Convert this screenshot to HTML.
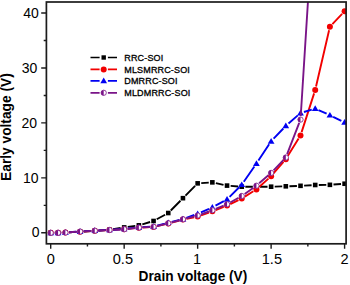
<!DOCTYPE html>
<html><head><meta charset="utf-8"><style>
html,body{margin:0;padding:0;background:#fff;width:350px;height:285px;overflow:hidden}
svg{display:block}
.t{font-family:"Liberation Sans",sans-serif;font-size:14px;fill:#000}
.b{font-family:"Liberation Sans",sans-serif;font-size:14px;font-weight:bold;fill:#000}
.l{font-family:"Liberation Sans",sans-serif;font-size:9px;letter-spacing:0.15px;stroke:#000;stroke-width:0.3px;fill:#000}
</style></head><body>
<svg width="350" height="285" viewBox="0 0 350 285">
<defs><clipPath id="pc"><rect x="46.4" y="2" width="299.7" height="241.8"/></clipPath></defs>
<g clip-path="url(#pc)"><path d="M54.30,232.80L54.45,232.80M61.64,232.67L61.80,232.66M68.99,232.32L76.50,231.90M83.68,231.50L91.19,231.08M98.37,230.61L105.89,230.05M113.03,229.21L120.62,227.99M127.74,226.91L135.31,225.83M142.32,224.31L150.11,222.01M156.73,219.27L165.10,214.73M170.79,210.46L180.42,200.74M185.49,195.62L195.12,185.90M201.24,183.10L208.75,182.60M215.86,183.13L223.52,184.82M230.63,185.87L238.15,186.43M245.34,186.70L252.83,186.70M260.03,186.70L267.52,186.70M274.72,186.60L282.22,186.41M289.42,186.19L296.92,185.94M304.11,185.62L311.62,185.20M318.81,184.95L326.31,184.87M333.49,184.56L341.01,184.00" fill="none" stroke="#000" stroke-width="1.9"/><rect x="48.40" y="230.50" width="4.6" height="4.6" fill="#000"/><rect x="55.75" y="230.50" width="4.6" height="4.6" fill="#000"/><rect x="63.10" y="230.23" width="4.6" height="4.6" fill="#000"/><rect x="77.79" y="229.40" width="4.6" height="4.6" fill="#000"/><rect x="92.48" y="228.58" width="4.6" height="4.6" fill="#000"/><rect x="107.18" y="227.48" width="4.6" height="4.6" fill="#000"/><rect x="121.88" y="225.11" width="4.6" height="4.6" fill="#000"/><rect x="136.57" y="223.03" width="4.6" height="4.6" fill="#000"/><rect x="151.26" y="218.69" width="4.6" height="4.6" fill="#000"/><rect x="165.96" y="210.72" width="4.6" height="4.6" fill="#000"/><rect x="180.65" y="195.88" width="4.6" height="4.6" fill="#000"/><rect x="195.35" y="181.05" width="4.6" height="4.6" fill="#000"/><rect x="210.05" y="180.06" width="4.6" height="4.6" fill="#000"/><rect x="224.74" y="183.30" width="4.6" height="4.6" fill="#000"/><rect x="239.44" y="184.40" width="4.6" height="4.6" fill="#000"/><rect x="254.13" y="184.40" width="4.6" height="4.6" fill="#000"/><rect x="268.82" y="184.40" width="4.6" height="4.6" fill="#000"/><rect x="283.52" y="184.01" width="4.6" height="4.6" fill="#000"/><rect x="298.21" y="183.52" width="4.6" height="4.6" fill="#000"/><rect x="312.91" y="182.69" width="4.6" height="4.6" fill="#000"/><rect x="327.60" y="182.53" width="4.6" height="4.6" fill="#000"/><rect x="342.30" y="181.43" width="4.6" height="4.6" fill="#000"/></g>
<g clip-path="url(#pc)"><path d="M54.30,232.80L54.45,232.80M61.64,232.67L61.80,232.66M68.99,232.32L76.50,231.90M83.68,231.49L91.19,231.04M98.38,230.63L105.88,230.24M113.08,229.86L120.58,229.47M127.75,228.90L135.29,228.08M142.47,227.50L149.97,227.11M157.07,226.09L164.76,224.28M171.74,222.55L179.47,220.52M186.48,218.89L194.12,217.31M201.04,215.38L208.95,212.57M215.70,210.05L223.69,206.92M230.28,204.04L238.49,200.08M244.79,196.61L253.37,191.29M259.11,186.99L268.45,178.61M273.48,173.48L283.47,161.89M287.72,156.11L298.61,138.60M301.62,132.11L314.11,93.36M316.03,86.42L329.09,30.24M332.39,24.13L342.11,13.95" fill="none" stroke="#f20000" stroke-width="1.9"/><circle cx="50.70" cy="232.80" r="3" fill="#f20000"/><circle cx="58.05" cy="232.80" r="3" fill="#f20000"/><circle cx="65.40" cy="232.53" r="3" fill="#f20000"/><circle cx="80.09" cy="231.70" r="3" fill="#f20000"/><circle cx="94.78" cy="230.82" r="3" fill="#f20000"/><circle cx="109.48" cy="230.05" r="3" fill="#f20000"/><circle cx="124.17" cy="229.28" r="3" fill="#f20000"/><circle cx="138.87" cy="227.69" r="3" fill="#f20000"/><circle cx="153.56" cy="226.92" r="3" fill="#f20000"/><circle cx="168.26" cy="223.46" r="3" fill="#f20000"/><circle cx="182.95" cy="219.61" r="3" fill="#f20000"/><circle cx="197.65" cy="216.59" r="3" fill="#f20000"/><circle cx="212.35" cy="211.37" r="3" fill="#f20000"/><circle cx="227.04" cy="205.60" r="3" fill="#f20000"/><circle cx="241.74" cy="198.51" r="3" fill="#f20000"/><circle cx="256.43" cy="189.39" r="3" fill="#f20000"/><circle cx="271.12" cy="176.20" r="3" fill="#f20000"/><circle cx="285.82" cy="159.17" r="3" fill="#f20000"/><circle cx="300.51" cy="135.54" r="3" fill="#f20000"/><circle cx="315.21" cy="89.93" r="3" fill="#f20000"/><circle cx="329.90" cy="26.74" r="3" fill="#f20000"/><circle cx="344.60" cy="11.35" r="3" fill="#f20000"/></g>
<g clip-path="url(#pc)"><path d="M54.30,232.80L54.45,232.80M61.64,232.67L61.80,232.66M68.99,232.30L76.50,231.82M83.68,231.35L91.19,230.84M98.38,230.44L105.88,230.10M113.07,229.70L120.58,229.20M127.75,228.55L135.29,227.71M142.46,227.10L149.97,226.68M157.05,225.58L164.77,223.59M171.76,221.83L179.46,219.93M186.34,217.85L194.26,215.00M200.95,212.35L209.04,208.85M215.50,205.69L223.88,201.12M229.59,196.85L239.19,187.26M243.79,181.76L254.38,166.52M258.41,160.56L269.14,144.31M273.61,138.70L283.33,128.53M288.52,123.55L297.81,115.39M303.96,111.98L311.76,109.64M318.49,110.09L326.62,113.73M333.14,116.78L341.36,120.78" fill="none" stroke="#0000f2" stroke-width="1.9"/><path d="M47.35,235.20 L54.05,235.20 L50.70,229.50 Z" fill="#0000f2"/><path d="M54.70,235.20 L61.40,235.20 L58.05,229.50 Z" fill="#0000f2"/><path d="M62.05,234.93 L68.75,234.93 L65.40,229.23 Z" fill="#0000f2"/><path d="M76.74,233.99 L83.44,233.99 L80.09,228.29 Z" fill="#0000f2"/><path d="M91.44,233.00 L98.13,233.00 L94.78,227.30 Z" fill="#0000f2"/><path d="M106.13,232.34 L112.83,232.34 L109.48,226.64 Z" fill="#0000f2"/><path d="M120.83,231.35 L127.52,231.35 L124.17,225.65 Z" fill="#0000f2"/><path d="M135.52,229.71 L142.22,229.71 L138.87,224.00 Z" fill="#0000f2"/><path d="M150.22,228.88 L156.91,228.88 L153.56,223.18 Z" fill="#0000f2"/><path d="M164.91,225.09 L171.61,225.09 L168.26,219.39 Z" fill="#0000f2"/><path d="M179.60,221.46 L186.30,221.46 L182.95,215.76 Z" fill="#0000f2"/><path d="M194.30,216.19 L201.00,216.19 L197.65,210.49 Z" fill="#0000f2"/><path d="M209.00,209.81 L215.70,209.81 L212.35,204.11 Z" fill="#0000f2"/><path d="M223.69,201.79 L230.39,201.79 L227.04,196.09 Z" fill="#0000f2"/><path d="M238.39,187.12 L245.09,187.12 L241.74,181.42 Z" fill="#0000f2"/><path d="M253.08,165.96 L259.78,165.96 L256.43,160.26 Z" fill="#0000f2"/><path d="M267.77,143.71 L274.48,143.71 L271.12,138.01 Z" fill="#0000f2"/><path d="M282.47,128.32 L289.17,128.32 L285.82,122.62 Z" fill="#0000f2"/><path d="M297.16,115.41 L303.87,115.41 L300.51,109.71 Z" fill="#0000f2"/><path d="M311.86,111.01 L318.56,111.01 L315.21,105.31 Z" fill="#0000f2"/><path d="M326.55,117.61 L333.25,117.61 L329.90,111.91 Z" fill="#0000f2"/><path d="M341.25,124.75 L347.95,124.75 L344.60,119.05 Z" fill="#0000f2"/></g>
<g clip-path="url(#pc)"><path d="M54.30,232.80L54.45,232.80M61.64,232.67L61.80,232.66M68.99,232.30L76.50,231.82M83.68,231.38L91.19,230.93M98.38,230.54L105.88,230.17M113.07,229.80L120.58,229.37M127.75,228.79L135.29,227.97M142.47,227.39L149.97,227.00M157.07,225.97L164.76,224.13M171.73,222.35L179.48,220.23M186.44,218.38L194.16,216.39M201.04,214.29L208.95,211.48M215.67,208.90L223.71,205.60M230.18,202.46L238.60,197.74M244.69,193.92L253.48,187.77M259.14,183.34L268.41,175.27M273.61,170.30L283.33,160.12M287.12,154.16L299.21,122.96M300.74,116.01L314.98,-109.79" fill="none" stroke="#7a1488" stroke-width="1.9"/><circle cx="50.70" cy="232.80" r="2.65" fill="#fff" stroke="#7a1488" stroke-width="0.8"/><path d="M50.70,230.15 A2.65,2.65 0 0 0 50.70,235.45 Z" fill="#7a1488"/><circle cx="58.05" cy="232.80" r="2.65" fill="#fff" stroke="#7a1488" stroke-width="0.8"/><path d="M58.05,230.15 A2.65,2.65 0 0 0 58.05,235.45 Z" fill="#7a1488"/><circle cx="65.40" cy="232.53" r="2.65" fill="#fff" stroke="#7a1488" stroke-width="0.8"/><path d="M65.40,229.88 A2.65,2.65 0 0 0 65.40,235.18 Z" fill="#7a1488"/><circle cx="80.09" cy="231.59" r="2.65" fill="#fff" stroke="#7a1488" stroke-width="0.8"/><path d="M80.09,228.94 A2.65,2.65 0 0 0 80.09,234.24 Z" fill="#7a1488"/><circle cx="94.78" cy="230.71" r="2.65" fill="#fff" stroke="#7a1488" stroke-width="0.8"/><path d="M94.78,228.06 A2.65,2.65 0 0 0 94.78,233.36 Z" fill="#7a1488"/><circle cx="109.48" cy="230.00" r="2.65" fill="#fff" stroke="#7a1488" stroke-width="0.8"/><path d="M109.48,227.35 A2.65,2.65 0 0 0 109.48,232.65 Z" fill="#7a1488"/><circle cx="124.17" cy="229.17" r="2.65" fill="#fff" stroke="#7a1488" stroke-width="0.8"/><path d="M124.17,226.52 A2.65,2.65 0 0 0 124.17,231.82 Z" fill="#7a1488"/><circle cx="138.87" cy="227.58" r="2.65" fill="#fff" stroke="#7a1488" stroke-width="0.8"/><path d="M138.87,224.93 A2.65,2.65 0 0 0 138.87,230.23 Z" fill="#7a1488"/><circle cx="153.56" cy="226.81" r="2.65" fill="#fff" stroke="#7a1488" stroke-width="0.8"/><path d="M153.56,224.16 A2.65,2.65 0 0 0 153.56,229.46 Z" fill="#7a1488"/><circle cx="168.26" cy="223.29" r="2.65" fill="#fff" stroke="#7a1488" stroke-width="0.8"/><path d="M168.26,220.64 A2.65,2.65 0 0 0 168.26,225.94 Z" fill="#7a1488"/><circle cx="182.95" cy="219.28" r="2.65" fill="#fff" stroke="#7a1488" stroke-width="0.8"/><path d="M182.95,216.63 A2.65,2.65 0 0 0 182.95,221.93 Z" fill="#7a1488"/><circle cx="197.65" cy="215.49" r="2.65" fill="#fff" stroke="#7a1488" stroke-width="0.8"/><path d="M197.65,212.84 A2.65,2.65 0 0 0 197.65,218.14 Z" fill="#7a1488"/><circle cx="212.35" cy="210.27" r="2.65" fill="#fff" stroke="#7a1488" stroke-width="0.8"/><path d="M212.35,207.62 A2.65,2.65 0 0 0 212.35,212.92 Z" fill="#7a1488"/><circle cx="227.04" cy="204.23" r="2.65" fill="#fff" stroke="#7a1488" stroke-width="0.8"/><path d="M227.04,201.58 A2.65,2.65 0 0 0 227.04,206.88 Z" fill="#7a1488"/><circle cx="241.74" cy="195.98" r="2.65" fill="#fff" stroke="#7a1488" stroke-width="0.8"/><path d="M241.74,193.33 A2.65,2.65 0 0 0 241.74,198.63 Z" fill="#7a1488"/><circle cx="256.43" cy="185.71" r="2.65" fill="#fff" stroke="#7a1488" stroke-width="0.8"/><path d="M256.43,183.06 A2.65,2.65 0 0 0 256.43,188.36 Z" fill="#7a1488"/><circle cx="271.12" cy="172.90" r="2.65" fill="#fff" stroke="#7a1488" stroke-width="0.8"/><path d="M271.12,170.25 A2.65,2.65 0 0 0 271.12,175.55 Z" fill="#7a1488"/><circle cx="285.82" cy="157.52" r="2.65" fill="#fff" stroke="#7a1488" stroke-width="0.8"/><path d="M285.82,154.87 A2.65,2.65 0 0 0 285.82,160.17 Z" fill="#7a1488"/><circle cx="300.51" cy="119.60" r="2.65" fill="#fff" stroke="#7a1488" stroke-width="0.8"/><path d="M300.51,116.95 A2.65,2.65 0 0 0 300.51,122.25 Z" fill="#7a1488"/></g>
<rect x="46.4" y="2" width="299.7" height="241.8" fill="none" stroke="#1c1c1c" stroke-width="1.7"/>
<path d="M41.2,232.80H46.4 M41.2,177.85H46.4 M41.2,122.90H46.4 M41.2,67.95H46.4 M41.2,13.00H46.4 M43.7,205.33H46.4 M43.7,150.38H46.4 M43.7,95.43H46.4 M43.7,40.47H46.4 M50.70,243.8V248.8 M124.17,243.8V248.8 M197.65,243.8V248.8 M271.12,243.8V248.8 M344.60,243.8V248.8 M87.44,243.8V246.6 M160.91,243.8V246.6 M234.39,243.8V246.6 M307.86,243.8V246.6" stroke="#1c1c1c" stroke-width="1.4" fill="none"/>
<text x="38.9" y="18.00" text-anchor="end" class="t">40</text>
<text x="37.3" y="72.95" text-anchor="end" class="t">30</text>
<text x="37.1" y="127.90" text-anchor="end" class="t">20</text>
<text x="38.6" y="182.85" text-anchor="end" class="t">10</text>
<text x="39.6" y="237.30" text-anchor="end" class="t">0</text>
<text x="50.8" y="263.6" text-anchor="middle" class="t" style="font-size:14.6px">0</text>
<text x="122.9" y="263.6" text-anchor="middle" class="t" style="font-size:14.6px">0.5</text>
<text x="197.0" y="263.6" text-anchor="middle" class="t" style="font-size:14.6px">1</text>
<text x="271.9" y="263.6" text-anchor="middle" class="t" style="font-size:14.6px">1.5</text>
<text x="344.6" y="263.6" text-anchor="middle" class="t" style="font-size:14.6px">2</text>
<text x="138.6" y="280.9" class="b" textLength="108.7" lengthAdjust="spacingAndGlyphs">Drain voltage (V)</text>
<text transform="translate(11.1,180.9) rotate(-90)" x="0" y="0" class="b" textLength="107.6" lengthAdjust="spacingAndGlyphs">Early voltage (V)</text>
<path d="M90.5,57.5H99.6M107.9,57.5H117" stroke="#000" stroke-width="1.7"/>
<rect x="101.50" y="55.30" width="4.4" height="4.4" fill="#000"/>
<text x="124.3" y="60.9" class="l">RRC-SOI</text>
<path d="M90.5,69.4H99.6M107.9,69.4H117" stroke="#f20000" stroke-width="1.7"/>
<circle cx="103.70" cy="69.40" r="3" fill="#f20000"/>
<text x="124.3" y="72.7" class="l">MLSMRRC-SOI</text>
<path d="M90.5,80.8H99.6M107.9,80.8H117" stroke="#0000f2" stroke-width="1.7"/>
<path d="M100.35,83.20 L107.05,83.20 L103.70,77.50 Z" fill="#0000f2"/>
<text x="124.3" y="84.2" class="l">DMRRC-SOI</text>
<path d="M90.5,92.8H99.6M107.9,92.8H117" stroke="#7a1488" stroke-width="1.7"/>
<circle cx="103.70" cy="92.80" r="2.65" fill="#fff" stroke="#7a1488" stroke-width="0.8"/><path d="M103.70,90.15 A2.65,2.65 0 0 0 103.70,95.45 Z" fill="#7a1488"/>
<text x="124.3" y="96.1" class="l">MLDMRRC-SOI</text>
</svg>
</body></html>
